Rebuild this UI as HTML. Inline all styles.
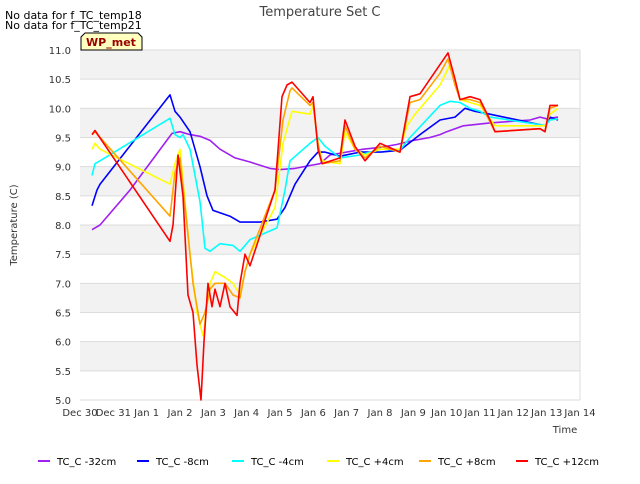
<!DOCTYPE html>
<html><head><meta charset="utf-8"><style>
body{margin:0;background:#fff;font-family:"DejaVu Sans","Liberation Sans",sans-serif;}
svg text{font-family:"DejaVu Sans","Liberation Sans",sans-serif;}
</style></head><body>
<svg id="chart" width="640" height="480" xmlns="http://www.w3.org/2000/svg">
<rect x="0" y="0" width="640" height="480" fill="#fff"/>
<g id="bands"></g><g id="grid"></g><g id="series"></g><g id="axes"></g>
<text x="320" y="16" text-anchor="middle" font-size="13" fill="#444">Temperature Set C</text>
<text x="5" y="19" font-size="11" fill="#000">No data for f_TC_temp18</text>
<text x="5" y="29" font-size="11" fill="#000">No data for f_TC_temp21</text>
<g>
<path d="M81,50 L81,37 L85,33 L138,33 L142,37 L142,50 Z" fill="#ffffc0" stroke="#000" stroke-width="1"/>
<text x="111" y="46" text-anchor="middle" font-size="11" font-weight="bold" fill="#990000">WP_met</text>
</g>
<text transform="translate(17,225) rotate(-90)" text-anchor="middle" font-size="10" fill="#333">Temperature (C)</text>
<text x="565" y="433" text-anchor="middle" font-size="10" fill="#333">Time</text>
<g id="legend"></g>
</svg>
<script>
const xTickLabels=["Dec 30","Dec 31","Jan 1","Jan 2","Jan 3","Jan 4","Jan 5","Jan 6","Jan 7","Jan 8","Jan 9","Jan 10","Jan 11","Jan 12","Jan 13","Jan 14"];
const yTicks=[5.0,5.5,6.0,6.5,7.0,7.5,8.0,8.5,9.0,9.5,10.0,10.5,11.0];
const seriesNames=["TC_C -32cm","TC_C -8cm","TC_C -4cm","TC_C +4cm","TC_C +8cm","TC_C +12cm"];
const seriesColors=["#a020f0","#0000ff","#00ffff","#ffff00","#ffa500","#ff0000"];
const d32=[0.36,0.6,1.5,2.76,3.0,3.3,3.6,3.9,4.2,4.65,5.1,5.7,6.0,6.45,6.9,7.2,7.5,8.0,8.5,9.0,9.5,10.0,10.5,10.8,11.0,11.5,12.3,13.0,13.5,13.8,14.0,14.34];
const v32=[7.92,8.0,8.6,9.57,9.6,9.55,9.52,9.45,9.3,9.15,9.08,8.97,8.95,8.97,9.02,9.05,9.2,9.25,9.3,9.33,9.38,9.45,9.5,9.55,9.6,9.7,9.75,9.78,9.8,9.85,9.82,9.85];
const d8=[0.36,0.51,0.6,2.7,2.85,3.0,3.3,3.6,3.81,3.99,4.5,4.8,5.4,5.91,6.15,6.45,6.9,7.14,7.35,7.8,8.4,9.0,9.6,10.2,10.8,11.25,11.55,11.85,12.3,13.8,13.95,14.1,14.34];
const v8=[8.33,8.6,8.7,10.23,9.95,9.85,9.6,9.0,8.5,8.25,8.15,8.05,8.05,8.1,8.3,8.7,9.1,9.25,9.25,9.18,9.25,9.25,9.28,9.55,9.8,9.85,10.0,9.95,9.9,9.72,9.7,9.85,9.8];
const d4n=[0.36,0.45,0.6,2.7,2.85,3.0,3.09,3.3,3.6,3.75,3.9,4.2,4.59,4.8,5.1,5.91,6.15,6.3,6.9,7.14,7.35,7.8,8.4,9.0,9.6,9.9,10.8,11.1,11.4,11.7,12.0,12.3,13.8,13.95,14.1,14.34];
const v4n=[8.85,9.05,9.1,9.83,9.55,9.5,9.55,9.3,8.4,7.6,7.55,7.68,7.65,7.55,7.75,7.95,8.6,9.1,9.4,9.5,9.35,9.15,9.2,9.3,9.28,9.5,10.05,10.12,10.1,10.0,9.95,9.85,9.72,9.7,9.8,9.82];
const d4p=[0.36,0.45,0.6,2.7,2.85,3.0,3.3,3.51,3.69,3.9,4.05,4.35,4.59,4.8,4.95,5.1,5.85,6.09,6.36,6.9,6.99,7.14,7.26,7.8,7.95,8.25,8.55,9.0,9.6,9.81,10.05,10.8,11.1,11.25,11.4,11.7,12.0,12.45,13.8,13.95,14.1,14.34];
const v4p=[9.3,9.4,9.3,8.7,9.05,9.3,7.5,6.5,6.1,7.0,7.2,7.1,7.0,6.8,7.2,7.5,8.3,9.4,9.95,9.9,10.05,9.4,9.1,9.05,9.6,9.3,9.2,9.3,9.3,9.7,9.9,10.4,10.75,10.5,10.15,10.1,10.05,9.7,9.7,9.7,9.9,10.0];
const d8p=[0.36,0.45,2.7,2.85,3.0,3.3,3.39,3.6,3.75,3.9,4.05,4.35,4.59,4.8,4.95,5.1,5.85,6.09,6.3,6.36,6.9,6.99,7.14,7.26,7.8,7.95,8.25,8.55,9.0,9.6,9.9,10.2,10.8,11.04,11.25,11.4,11.7,12.0,12.45,13.8,13.95,14.1,14.34];
const v8p=[9.55,9.6,8.15,8.9,9.15,7.5,7.0,6.3,6.5,6.9,7.0,7.0,6.8,6.75,7.2,7.5,8.6,9.8,10.3,10.35,10.05,10.1,9.4,9.05,9.1,9.7,9.3,9.15,9.35,9.25,10.1,10.15,10.6,10.85,10.4,10.15,10.15,10.1,9.6,9.65,9.6,10.0,10.05];
const d12=[0.36,0.45,2.7,2.79,2.94,3.09,3.24,3.39,3.51,3.63,3.72,3.84,3.96,4.05,4.2,4.35,4.5,4.71,4.8,4.95,5.1,5.85,6.06,6.21,6.36,6.9,6.99,7.14,7.26,7.8,7.95,8.25,8.55,9.0,9.6,9.9,10.2,10.8,11.04,11.25,11.4,11.7,12.0,12.3,12.45,13.8,13.95,14.1,14.34];
const v12=[9.55,9.62,7.72,8.0,9.2,8.5,6.8,6.5,5.6,5.0,6.0,7.0,6.6,6.9,6.6,7.0,6.6,6.45,7.0,7.5,7.3,8.6,10.2,10.4,10.45,10.1,10.2,9.3,9.05,9.15,9.8,9.35,9.1,9.4,9.25,10.2,10.25,10.75,10.95,10.5,10.15,10.2,10.15,9.8,9.6,9.65,9.6,10.05,10.05];
const allDays=[d32,d8,d4n,d4p,d8p,d12];
const allVals=[v32,v8,v4n,v4p,v8p,v12];

const L=80,R=580,T=50,B=400,NS="http://www.w3.org/2000/svg";
const xS=d=>L+(R-L)*d/15;
const yS=v=>B-(B-T)*(v-5)/6;
function mk(tag,attrs,parent){const e=document.createElementNS(NS,tag);for(const k in attrs)e.setAttribute(k,attrs[k]);parent.appendChild(e);return e;}
const bands=document.getElementById('bands'),grid=document.getElementById('grid'),axes=document.getElementById('axes'),ser=document.getElementById('series'),leg=document.getElementById('legend');
mk('rect',{x:L,y:T,width:R-L,height:B-T,fill:'#fff'},bands);
for(let v=5.5;v<11;v+=1){
  const b=mk('rect',{x:L,y:yS(v+0.5),width:R-L,height:yS(v)-yS(v+0.5),fill:'#f2f2f2'},bands);
  
  
}
yTicks.forEach(v=>{
  const g=mk('line',{x1:L,x2:R,y1:yS(v),y2:yS(v),stroke:'#dcdcdc','stroke-width':1},grid);
  
  
  const t=mk('text',{x:L-9,y:yS(v)+4,'text-anchor':'end','font-size':10,fill:'#333'},axes);
  t.textContent=v.toFixed(1);
  
  
});
mk('line',{x1:R,x2:R,y1:T,y2:B,stroke:'#dcdcdc'},grid);
xTickLabels.forEach((lab,i)=>{
  const t=mk('text',{x:xS(i),y:B+16,'text-anchor':'middle','font-size':10,fill:'#333'},axes);
  t.textContent=lab;
  
  
});
allDays.forEach((ds,si)=>{
  const pts=ds.map((d,i)=>xS(d).toFixed(1)+','+yS(allVals[si][i]).toFixed(1)).join(' ');
  const p=mk('polyline',{points:pts,fill:'none',stroke:seriesColors[si],'stroke-width':1.6,'stroke-linejoin':'round'},ser);
  
  
});
const legX=[38,137,232,327,419,516];
seriesNames.forEach((n,i)=>{
  const g=mk('g',{},leg);
  
  
  mk('line',{x1:legX[i],x2:legX[i]+12,y1:461,y2:461,stroke:seriesColors[i],'stroke-width':2},g);
  const t=mk('text',{x:legX[i]+19,y:465,'font-size':10,fill:'#000'},g);
  t.textContent=n;
});
</script>
</body></html>
